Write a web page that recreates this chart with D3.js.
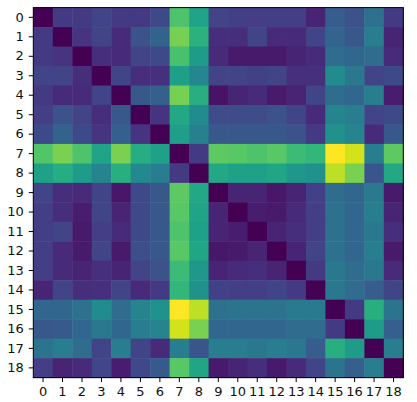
<!DOCTYPE html>
<html>
<head>
<meta charset="utf-8">
<script src="https://cdn.jsdelivr.net/npm/d3@7"></script>
<style>
    body { margin: 0; background: #fff; }
    svg text { font-family: "DejaVu Sans", sans-serif; font-size: 13px; fill: #111; }
</style>
</head>
<body>
<svg id="chart" width="417" height="402"></svg>
<script>
'use strict';

// tick labels, same for rows and columns
const labels = ['0', '1', '2', '3', '4', '5', '6', '7', '8', '9',
    '10', '11', '12', '13', '14', '15', '16', '17', '18'];

// matrix values (row by row)
const values = [
    [0.00, 0.17, 0.17, 0.20, 0.17, 0.17, 0.22, 0.72, 0.58, 0.20, 0.18, 0.18, 0.18, 0.18, 0.10, 0.29, 0.25, 0.37, 0.17],
    [0.17, 0.00, 0.15, 0.20, 0.12, 0.25, 0.31, 0.79, 0.64, 0.13, 0.13, 0.20, 0.12, 0.12, 0.20, 0.32, 0.27, 0.42, 0.10],
    [0.17, 0.15, 0.00, 0.13, 0.12, 0.20, 0.22, 0.71, 0.55, 0.12, 0.07, 0.07, 0.07, 0.10, 0.12, 0.35, 0.33, 0.35, 0.12],
    [0.20, 0.20, 0.13, 0.00, 0.20, 0.13, 0.14, 0.56, 0.46, 0.20, 0.20, 0.19, 0.20, 0.14, 0.14, 0.48, 0.40, 0.20, 0.22],
    [0.17, 0.12, 0.12, 0.20, 0.00, 0.27, 0.30, 0.79, 0.63, 0.05, 0.10, 0.12, 0.07, 0.10, 0.20, 0.35, 0.33, 0.42, 0.08],
    [0.18, 0.25, 0.20, 0.13, 0.27, 0.00, 0.15, 0.60, 0.48, 0.23, 0.23, 0.23, 0.25, 0.20, 0.12, 0.45, 0.42, 0.20, 0.22],
    [0.22, 0.31, 0.22, 0.15, 0.30, 0.15, 0.00, 0.56, 0.43, 0.27, 0.27, 0.27, 0.27, 0.25, 0.17, 0.50, 0.45, 0.12, 0.27],
    [0.73, 0.80, 0.72, 0.58, 0.80, 0.62, 0.57, 0.00, 0.17, 0.75, 0.74, 0.72, 0.74, 0.68, 0.66, 1.00, 0.93, 0.42, 0.75],
    [0.57, 0.62, 0.55, 0.45, 0.63, 0.47, 0.42, 0.17, 0.00, 0.60, 0.57, 0.57, 0.59, 0.53, 0.50, 0.90, 0.80, 0.26, 0.60],
    [0.20, 0.13, 0.12, 0.20, 0.06, 0.22, 0.27, 0.75, 0.60, 0.00, 0.10, 0.10, 0.06, 0.10, 0.19, 0.35, 0.33, 0.41, 0.07],
    [0.18, 0.13, 0.08, 0.20, 0.10, 0.22, 0.27, 0.74, 0.58, 0.10, 0.00, 0.08, 0.07, 0.12, 0.18, 0.37, 0.33, 0.42, 0.10],
    [0.18, 0.20, 0.07, 0.18, 0.12, 0.22, 0.27, 0.72, 0.57, 0.10, 0.08, 0.00, 0.10, 0.13, 0.18, 0.37, 0.33, 0.40, 0.13],
    [0.18, 0.12, 0.07, 0.20, 0.07, 0.24, 0.27, 0.74, 0.59, 0.06, 0.07, 0.10, 0.00, 0.10, 0.20, 0.37, 0.33, 0.42, 0.07],
    [0.18, 0.12, 0.10, 0.14, 0.10, 0.20, 0.25, 0.68, 0.53, 0.10, 0.12, 0.13, 0.10, 0.00, 0.17, 0.40, 0.35, 0.40, 0.12],
    [0.10, 0.20, 0.13, 0.14, 0.20, 0.12, 0.17, 0.66, 0.50, 0.19, 0.18, 0.18, 0.20, 0.17, 0.00, 0.40, 0.35, 0.29, 0.20],
    [0.33, 0.33, 0.37, 0.48, 0.35, 0.45, 0.50, 1.00, 0.90, 0.37, 0.38, 0.38, 0.38, 0.41, 0.41, 0.00, 0.17, 0.63, 0.38],
    [0.27, 0.28, 0.33, 0.40, 0.33, 0.42, 0.45, 0.93, 0.80, 0.33, 0.33, 0.33, 0.33, 0.35, 0.35, 0.17, 0.00, 0.55, 0.30],
    [0.38, 0.42, 0.35, 0.20, 0.42, 0.20, 0.12, 0.42, 0.26, 0.42, 0.42, 0.40, 0.42, 0.40, 0.29, 0.63, 0.55, 0.00, 0.42],
    [0.18, 0.10, 0.12, 0.21, 0.08, 0.22, 0.28, 0.74, 0.59, 0.07, 0.10, 0.13, 0.07, 0.12, 0.20, 0.38, 0.30, 0.42, 0.00]
];

const margin = { left: 33.3, top: 7.6 };
const size = 370;

function drawHeatmap(svg, rows)
{
    const cells = [];
    rows.forEach((row, i) => row.forEach((v, j) => cells.push({ row: i, col: j, v: v })));

    const x = d3.scaleBand().domain(labels).range([0, size]);
    const y = d3.scaleBand().domain(labels).range([0, size]);
    const flat = cells.map((d) => d.v);
    const color = d3.scaleSequential(d3.interpolateViridis).domain([d3.min(flat), d3.max(flat)]);

    const g = svg.append('g').attr('transform', `translate(${margin.left},${margin.top})`);

    // cells
    g.selectAll('rect.cell').data(cells).enter().append('rect')
        .attr('class', 'cell')
        .attr('x', (d) => x(labels[d.col]))
        .attr('y', (d) => y(labels[d.row]))
        .attr('width', x.bandwidth() + 0.5)
        .attr('height', y.bandwidth() + 0.5)
        .attr('fill', (d) => color(d.v));

    // frame
    g.append('rect')
        .attr('width', size)
        .attr('height', size)
        .attr('fill', 'none')
        .attr('stroke', '#000')
        .attr('stroke-width', 1);

    // axes
    const xAxis = g.append('g')
        .attr('transform', `translate(0,${size})`)
        .call(d3.axisBottom(x).tickSize(4.5).tickPadding(5));
    const yAxis = g.append('g')
        .call(d3.axisLeft(y).tickSize(4.5).tickPadding(5));

    [xAxis, yAxis].forEach((a) => {
        a.select('.domain').remove();
        a.selectAll('line').attr('stroke', '#000');
        a.selectAll('text').attr('font-size', 13).attr('font-family', '"DejaVu Sans", sans-serif');
    });
}

drawHeatmap(d3.select('#chart'), values);
</script>
</body>
</html>
